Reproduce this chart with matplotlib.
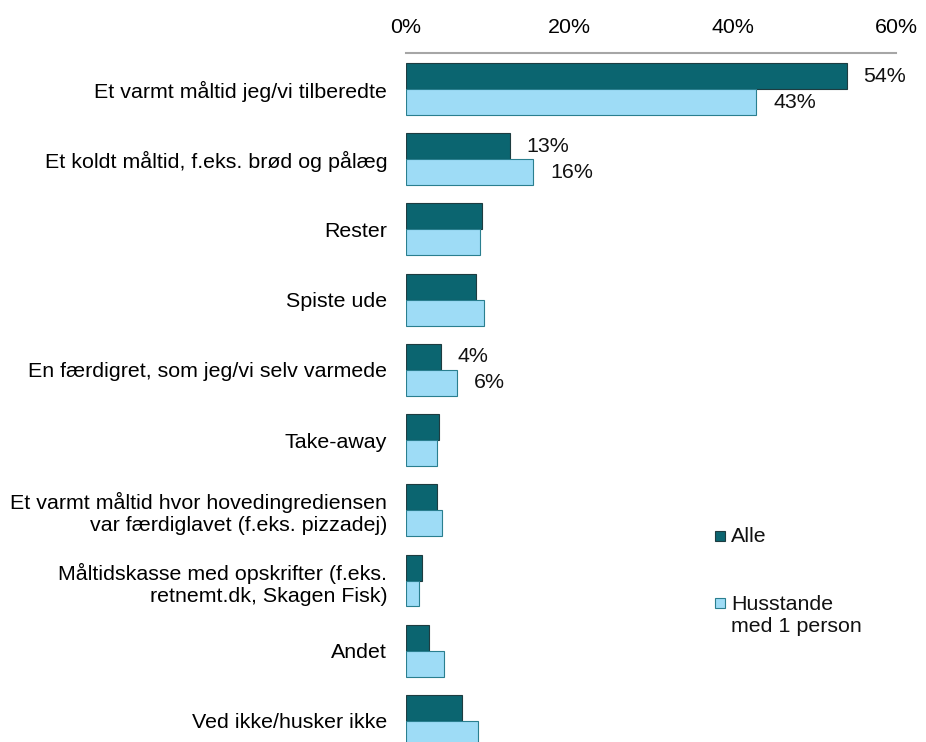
import matplotlib
matplotlib.use("Agg")
import matplotlib.pyplot as plt
from matplotlib.patches import Rectangle
import numpy as np

plt.rcParams["font.family"] = ["Liberation Sans", "DejaVu Sans"]

categories = [
    "Et varmt måltid jeg/vi tilberedte",
    "Et koldt måltid, f.eks. brød og pålæg",
    "Rester",
    "Spiste ude",
    "En færdigret, som jeg/vi selv varmede",
    "Take-away",
    "Et varmt måltid hvor hovedingrediensen\nvar færdiglavet (f.eks. pizzadej)",
    "Måltidskasse med opskrifter (f.eks.\nretnemt.dk, Skagen Fisk)",
    "Andet",
    "Ved ikke/husker ikke",
]
alle = [54.0, 12.7, 9.3, 8.6, 4.3, 4.0, 3.8, 1.9, 2.8, 6.9]
husstande = [42.9, 15.6, 9.1, 9.5, 6.3, 3.8, 4.4, 1.6, 4.6, 8.8]
# kun disse grupper har datalabels i originalen
labelled = [0, 1, 4]

series_names = ["Alle", "Husstande\nmed 1 person"]
dark = "#0b6570"
light = "#9edcf6"
fs = 15.4

fig = plt.figure(figsize=(9.26, 7.42), dpi=100)
ax = fig.add_axes([406 / 926, 0.0, 490 / 926, 1 - 53 / 742])

y = np.arange(len(categories))
h = 0.37
ax.barh(y - h / 2, alle, height=h, color=dark, edgecolor="#1e3c40", linewidth=0.8)
ax.barh(y + h / 2, husstande, height=h, color=light, edgecolor="#2a7f8f", linewidth=0.8)

for i in labelled:
    ax.annotate(f"{alle[i]:.0f}%", (alle[i], i - h / 2), xytext=(12, 0),
                textcoords="offset points", va="center", ha="left", fontsize=fs, color="#111111")
    ax.annotate(f"{husstande[i]:.0f}%", (husstande[i], i + h / 2), xytext=(12, 0),
                textcoords="offset points", va="center", ha="left", fontsize=fs, color="#111111")

ax.set_xlim(0, 60)
ax.set_ylim(9.30, -0.513)
ax.xaxis.tick_top()
ax.set_xticks([0, 20, 40, 60])
ax.set_xticklabels(["0%", "20%", "40%", "60%"], fontsize=fs)
ax.tick_params(axis="x", length=0, pad=11.5)
ax.set_yticks(y)
ax.set_yticklabels(categories, fontsize=fs)
ax.tick_params(axis="y", length=0, pad=13.5)
for s in ["bottom", "left", "right"]:
    ax.spines[s].set_visible(False)
ax.spines["top"].set_color("#a6a6a6")
ax.spines["top"].set_linewidth(1.5)

# legend, lagt ind manuelt for at matche placeringen
for (sy, ty, name, col, ec) in [(536, 537, series_names[0], dark, "#1e3c40"),
                                 (603, 615, series_names[1], light, "#2a7f8f")]:
    fig.patches.append(Rectangle((715 / 926, 1 - (sy + 5) / 742), 10 / 926, 10 / 742,
                                 transform=fig.transFigure, facecolor=col, edgecolor=ec,
                                 linewidth=0.8))
    fig.text(731 / 926, 1 - ty / 742, name, fontsize=fs, va="center", ha="left",
             color="#111111", linespacing=1.2)

fig.savefig("out.png")
